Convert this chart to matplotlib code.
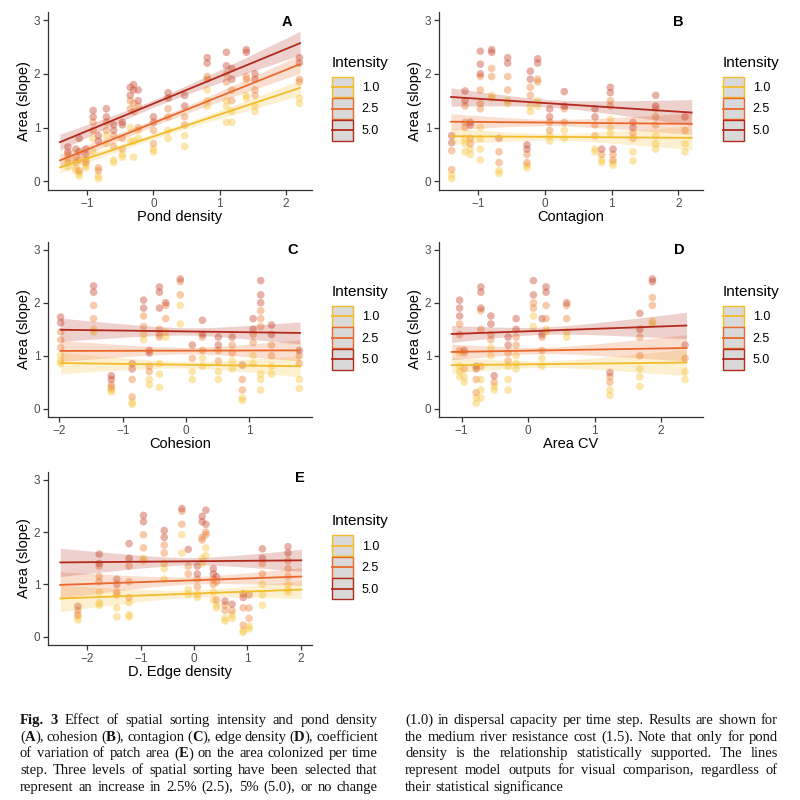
import numpy as np
import matplotlib
matplotlib.use("Agg")
import matplotlib.pyplot as plt
from matplotlib.patches import Patch, Rectangle
from matplotlib.lines import Line2D
from matplotlib.legend_handler import HandlerBase

plt.rcParams['font.family'] = ['Liberation Sans', 'DejaVu Sans']

intensity_labels = ['1.0', '2.5', '5.0']
line_colors = ['#F3BC2A', '#E9692C', '#B22A1C']
point_colors = ['#F8C53A', '#EE8236', '#C8462E']

# A: pond density
a_x = [-1.29, -1.17, -1.12, -1.02, -0.91, -0.83, -0.71, -0.60, -0.47, -0.35, -0.30,
       -0.23, 0.00, 0.22, 0.47, 0.81, 1.10, 1.18, 1.40, 1.53, 2.20]
a_y = [[0.64, 0.55, 0.50, 0.42, 0.35, 0.27], [0.60, 0.45, 0.35, 0.25, 0.20],
       [0.80, 0.55, 0.40, 0.20, 0.15, 0.10], [0.60, 0.50, 0.40, 0.35, 0.30, 0.25],
       [1.32, 1.20, 1.10, 0.95, 0.80, 0.55], [0.85, 0.75, 0.25, 0.20, 0.10, 0.05],
       [1.35, 1.20, 1.10, 0.95, 0.85, 0.70], [1.05, 0.95, 0.85, 0.65, 0.40, 0.35],
       [1.10, 1.05, 0.80, 0.60, 0.50, 0.45], [1.75, 1.60, 1.50, 1.35, 1.00, 0.75],
       [1.80, 1.70, 1.45, 1.30, 0.75, 0.45], [1.70, 1.50, 1.40, 1.00, 0.95, 0.80],
       [1.20, 1.10, 0.95, 0.70, 0.60, 0.55], [1.65, 1.55, 1.35, 1.20, 0.95, 0.80],
       [1.60, 1.40, 1.20, 1.05, 0.85, 0.65], [2.30, 2.20, 1.95, 1.90, 1.70, 1.50, 1.40],
       [2.40, 2.15, 2.00, 1.85, 1.50, 1.40, 1.10], [2.10, 1.90, 1.70, 1.50, 1.30, 1.10],
       [2.45, 2.40, 1.95, 1.90, 1.60, 1.55], [2.00, 1.90, 1.70, 1.60, 1.40, 1.30],
       [2.30, 2.20, 1.90, 1.85, 1.55, 1.45]]
a_line_x = [-1.41, 2.21]
a_line_y = [[0.26, 1.74], [0.39, 2.18], [0.73, 2.57]]
a_band = [[0.10, 0.05, 0.14], [0.12, 0.06, 0.17], [0.15, 0.07, 0.22]]

# B: contagion
b_x = [-1.40, -1.20, -1.12, -0.97, -0.80, -0.69, -0.56, -0.27, -0.22, -0.11, 0.07,
       0.29, 0.75, 0.85, 0.98, 1.02, 1.32, 1.66, 2.10]
b_y = [[0.85, 0.72, 0.57, 0.22, 0.12, 0.05], [1.68, 1.50, 1.40, 1.10, 1.00, 0.80, 0.70, 0.55],
       [1.10, 1.05, 0.80, 0.70, 0.60, 0.50],
       [2.42, 2.18, 2.00, 1.95, 1.70, 1.45, 1.35, 1.00, 0.80, 0.60, 0.40],
       [2.45, 2.40, 2.10, 1.95, 1.60, 1.55], [0.80, 0.55, 0.35, 0.20, 0.15],
       [2.30, 2.20, 1.95, 1.70, 1.50, 1.45], [0.68, 0.60, 0.50, 0.35, 0.30, 0.25],
       [2.05, 1.90, 1.75, 1.60, 1.40, 1.30], [2.28, 2.20, 1.90, 1.85, 1.50, 1.40],
       [1.35, 1.20, 1.10, 0.95, 0.85, 0.75], [1.67, 1.40, 1.35, 1.10, 0.95, 0.80],
       [1.35, 1.20, 1.05, 0.85, 0.60, 0.55], [0.60, 0.50, 0.40, 0.35],
       [1.75, 1.65, 1.50, 1.40, 1.15, 1.00, 0.90], [0.60, 0.50, 0.40, 0.35, 0.30],
       [1.10, 1.00, 0.90, 0.80, 0.55, 0.38], [1.60, 1.40, 1.35, 1.20, 1.05, 0.85, 0.70, 0.60],
       [1.20, 0.95, 0.70, 0.55]]
b_line_x = [-1.41, 2.20]
b_line_y = [[0.84, 0.81], [1.11, 1.07], [1.57, 1.28]]
b_band = [[0.15, 0.06, 0.22], [0.15, 0.06, 0.20], [0.17, 0.07, 0.24]]

# C: cohesion
c_x = [-1.98, -1.46, -1.18, -0.85, -0.67, -0.58, -0.42, -0.32, -0.09, 0.10, 0.26,
       0.51, 0.73, 0.89, 1.06, 1.18, 1.35, 1.79]
c_y = [[1.73, 1.62, 1.45, 1.30, 1.15, 1.00, 0.90, 0.85], [2.32, 2.20, 1.95, 1.70, 1.50, 1.45],
       [0.62, 0.55, 0.45, 0.40, 0.35, 0.32], [0.85, 0.75, 0.55, 0.22, 0.12, 0.08],
       [2.05, 1.90, 1.75, 1.55, 1.40, 1.30], [1.10, 1.05, 0.80, 0.70, 0.55, 0.45],
       [2.30, 2.20, 1.90, 1.50, 1.40, 1.35, 0.85, 0.65, 0.40], [2.00, 1.95, 1.70, 1.45, 1.35],
       [2.45, 2.40, 2.15, 1.95, 1.60], [1.20, 0.95, 0.70, 0.55],
       [1.67, 1.40, 1.35, 1.10, 0.95, 0.80], [1.35, 1.20, 1.10, 0.90, 0.70, 0.55],
       [1.35, 1.20, 1.05, 0.90, 0.75], [0.82, 0.55, 0.35, 0.20, 0.15],
       [1.70, 1.50, 1.40, 1.25, 1.00, 0.85],
       [2.42, 2.15, 2.00, 1.85, 1.70, 1.55, 0.65, 0.55, 0.35],
       [1.58, 1.40, 1.20, 1.00, 0.80, 0.65], [1.10, 1.00, 0.85, 0.55, 0.38]]
c_line_x = [-1.98, 1.80]
c_line_y = [[0.86, 0.80], [1.09, 1.10], [1.49, 1.43]]
c_band = [[0.20, 0.06, 0.20], [0.20, 0.06, 0.20], [0.22, 0.07, 0.21]]

# D: area CV
d_x = [-1.03, -0.96, -0.78, -0.71, -0.56, -0.51, -0.30, -0.18, 0.08, 0.21, 0.27,
       0.58, 1.23, 1.68, 1.87, 2.36]
d_y = [[2.05, 1.90, 1.75, 1.60, 1.40, 1.10, 1.05, 0.80, 0.70, 0.60], [1.10, 1.05, 0.75, 0.60, 0.50],
       [0.80, 0.75, 0.55, 0.30, 0.20, 0.10],
       [2.30, 2.20, 1.90, 1.85, 1.50, 0.80, 0.55, 0.35, 0.20],
       [1.75, 1.60, 1.40, 1.30, 1.15, 1.00], [0.62, 0.50, 0.42, 0.35],
       [1.35, 1.20, 1.05, 0.90, 0.80, 0.55, 0.35], [1.70, 1.50, 1.35, 1.20, 1.00, 0.85, 0.75],
       [2.42, 2.15, 2.00, 1.90, 1.75, 1.55], [1.70, 1.40, 1.35, 1.10, 0.95, 0.80],
       [2.30, 2.20, 1.95, 1.70, 1.50, 1.45], [2.00, 1.95, 1.70, 1.45, 1.35],
       [0.68, 0.60, 0.50, 0.35, 0.25], [1.80, 1.50, 1.35, 1.00, 0.75, 0.60, 0.42],
       [2.45, 2.40, 2.10, 1.95, 1.65, 1.60], [1.20, 0.95, 0.70, 0.55]]
d_line_x = [-1.15, 2.38]
d_line_y = [[0.82, 0.87], [1.07, 1.145], [1.41, 1.57]]
d_band = [[0.15, 0.06, 0.25], [0.15, 0.06, 0.25], [0.16, 0.07, 0.25]]

# E: edge density
e_x = [-2.18, -1.78, -1.45, -1.22, -0.95, -0.56, -0.23, -0.11, 0.06, 0.15, 0.22,
       0.36, 0.42, 0.58, 0.71, 0.92, 1.03, 1.28, 1.76]
e_y = [[0.58, 0.50, 0.42, 0.38, 0.32], [1.58, 1.40, 1.35, 1.15, 1.05, 0.85, 0.65, 0.60],
       [1.10, 1.00, 0.85, 0.80, 0.55, 0.38], [1.78, 1.50, 1.35, 1.05, 0.75, 0.65, 0.42, 0.38],
       [2.32, 2.20, 1.95, 1.70, 1.50, 1.45], [2.03, 1.90, 1.75, 1.60, 1.40, 1.30, 1.10],
       [2.45, 2.40, 2.15, 1.95, 1.60], [1.67, 1.35, 1.20, 0.90, 0.80],
       [1.35, 1.20, 1.10, 0.95, 0.80, 0.75], [2.30, 2.20, 1.90, 1.85, 1.50, 1.40],
       [2.42, 2.15, 2.00, 1.95, 1.70, 1.55], [1.30, 1.20, 1.10, 1.00, 0.85, 0.70],
       [1.15, 1.05, 0.70, 0.60, 0.55], [0.68, 0.60, 0.50, 0.35, 0.30],
       [0.62, 0.50, 0.42, 0.35], [0.82, 0.75, 0.55, 0.22, 0.12, 0.08],
       [0.80, 0.55, 0.35, 0.20, 0.15], [1.68, 1.50, 1.40, 1.20, 1.00, 0.80, 0.60],
       [1.72, 1.60, 1.45, 1.30, 1.15, 1.00, 0.90, 0.85]]
e_line_x = [-2.51, 2.01]
e_line_y = [[0.73, 0.90], [0.99, 1.15], [1.42, 1.46]]
e_band = [[0.25, 0.07, 0.17], [0.25, 0.07, 0.17], [0.27, 0.07, 0.21]]

caption_left = [
    "*Fig. 3* Effect of spatial sorting intensity and pond density",
    "(*A*), cohesion (*B*), contagion (*C*), edge density (*D*), coefficient",
    "of variation of patch area (*E*) on the area colonized per time",
    "step. Three levels of spatial sorting have been selected that",
    "represent an increase in 2.5% (2.5), 5% (5.0), or no change",
]
caption_right = [
    "(1.0) in dispersal capacity per time step. Results are shown for",
    "the medium river resistance cost (1.5). Note that only for pond",
    "density is the relationship statistically supported. The lines",
    "represent model outputs for visual comparison, regardless of",
    "their statistical significance",
]

fig = plt.figure(figsize=(8, 8), dpi=100)
W = H = 800.0


class KeyHandler(HandlerBase):
    # grey box with coloured outline and a line through the middle (ggplot smooth key)
    def create_artists(self, legend, orig, xdescent, ydescent, width, height, fontsize, trans):
        c = orig.get_edgecolor()
        rect = Rectangle((-xdescent, -ydescent), width, height, facecolor='#D9D9D9',
                         edgecolor=c, linewidth=1.0, transform=trans)
        yc = -ydescent + height / 2
        line = Line2D([-xdescent, -xdescent + width], [yc, yc], color=c, lw=1.3,
                      transform=trans)
        return [rect, line]


def px_axes(left, top, right, bottom):
    return fig.add_axes([left / W, 1 - bottom / H, (right - left) / W, (bottom - top) / H])


def draw_panel(ax, xs, ys, line_x, line_y, bands, xlim, xticks, xlabel, letter, lpos):
    # points: within each landscape column, higher values belong to higher intensity
    for x, col in zip(xs, ys):
        col = sorted(col)
        parts = np.array_split(np.array(col), 3)
        for k, part in enumerate(parts):
            ax.scatter([x] * len(part), part, s=30, color=point_colors[k], alpha=0.42,
                       edgecolors='none', zorder=2)
    xc = np.mean(xs)
    gx = np.linspace(line_x[0], line_x[1], 80)
    for k in range(3):
        y0, y1 = line_y[k]
        fit = y0 + (y1 - y0) * (gx - line_x[0]) / (line_x[1] - line_x[0])
        hl, hm, hr = bands[k]
        he = np.where(gx < xc, hl, hr)
        xe = np.where(gx < xc, line_x[0], line_x[1])
        hw = np.sqrt(hm ** 2 + (he ** 2 - hm ** 2) * ((gx - xc) / (xe - xc)) ** 2)
        ax.fill_between(gx, fit - hw, fit + hw, color=line_colors[k], alpha=0.22,
                        linewidth=0, zorder=3)
        ax.plot(line_x, line_y[k], color=line_colors[k], lw=1.3, zorder=4)
    ax.set_xlim(*xlim)
    ax.set_ylim(-0.16, 3.15)
    ax.set_xticks(xticks)
    ax.set_yticks([0, 1, 2, 3])
    for s in ['top', 'right']:
        ax.spines[s].set_visible(False)
    for s in ['left', 'bottom']:
        ax.spines[s].set_color('#333333')
        ax.spines[s].set_linewidth(0.9)
    ax.tick_params(direction='out', length=3.5, width=0.9, color='#333333',
                   labelcolor='#4D4D4D', labelsize=8.5, pad=2)
    ax.set_xlabel(xlabel, fontsize=10.5, labelpad=0)
    ax.set_ylabel('Area (slope)', fontsize=10.5, labelpad=2)
    ax.text(lpos[0], lpos[1], letter, transform=ax.transAxes, fontsize=10.5,
            fontweight='bold', ha='center', va='center')
    handles = [Patch(facecolor='#D9D9D9', edgecolor=c) for c in line_colors]
    leg = ax.legend(handles, intensity_labels, title='Intensity', loc='upper left',
                    bbox_to_anchor=(1.075, 0.755), frameon=False,
                    handler_map={Patch: KeyHandler()},
                    handlelength=1.7, handleheight=2.2, labelspacing=0.05,
                    handletextpad=0.7, fontsize=9, title_fontsize=11,
                    alignment='left', borderaxespad=0, borderpad=0)
    leg._legend_box.sep = 5


axA = px_axes(48, 12, 312, 190)
axB = px_axes(439, 12, 703, 190)
axC = px_axes(48, 242, 312, 417)
axD = px_axes(439, 242, 703, 417)
axE = px_axes(48, 472, 312, 645)

draw_panel(axA, a_x, a_y, a_line_x, a_line_y, a_band, (-1.59, 2.39), [-1, 0, 1, 2],
           'Pond density', 'A', (0.905, 0.944))
draw_panel(axB, b_x, b_y, b_line_x, b_line_y, b_band, (-1.59, 2.37), [-1, 0, 1, 2],
           'Contagion', 'B', (0.905, 0.944))
draw_panel(axC, c_x, c_y, c_line_x, c_line_y, c_band, (-2.18, 1.99), [-2, -1, 0, 1],
           'Cohesion', 'C', (0.928, 0.954))
draw_panel(axD, d_x, d_y, d_line_x, d_line_y, d_band, (-1.34, 2.63), [-1, 0, 1, 2],
           'Area CV', 'D', (0.909, 0.954))
draw_panel(axE, e_x, e_y, e_line_x, e_line_y, e_band, (-2.74, 2.21), [-2, -1, 0, 1, 2],
           'D. Edge density', 'E', (0.955, 0.965))

# caption, justified like the journal layout
renderer = fig.canvas.get_renderer()
cap_font = dict(family=['Liberation Serif', 'DejaVu Serif'], size=10.5, color='#111111')


def parse_words(line):
    words, bold = [], False
    for w in line.split(' '):
        segs, cur = [], ''
        for ch in w:
            if ch == '*':
                if cur:
                    segs.append((cur, bold))
                cur = ''
                bold = not bold
            else:
                cur += ch
        if cur:
            segs.append((cur, bold))
        words.append(segs)
    return words


def seg_width(text, bold):
    t = fig.text(0, 0, text, fontweight='bold' if bold else 'normal', **cap_font)
    w = t.get_window_extent(renderer).width
    t.remove()
    return w


space_w = seg_width('a a', False) - seg_width('aa', False)


def draw_caption(lines, x0, x1, y_first, step, last_free):
    for i, line in enumerate(lines):
        words = parse_words(line)
        widths = [[seg_width(s, b) for s, b in segs] for segs in words]
        total = sum(sum(w) for w in widths)
        if last_free and i == len(lines) - 1:
            gap = space_w
        else:
            gap = (x1 - x0 - total) / max(len(words) - 1, 1)
        x = x0
        yb = y_first + i * step
        for segs, ws in zip(words, widths):
            for (s, b), w in zip(segs, ws):
                fig.text(x / W, 1 - yb / H, s, fontweight='bold' if b else 'normal',
                         ha='left', va='baseline', **cap_font)
                x += w
            x += gap


draw_caption(caption_left, 20, 378, 724, 16.7, False)
draw_caption(caption_right, 405, 778, 724, 16.7, True)

fig.savefig('out.png', dpi=100)
